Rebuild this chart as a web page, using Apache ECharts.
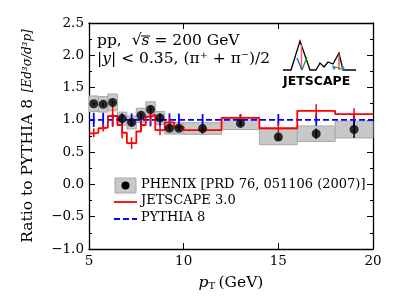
<!DOCTYPE html>
<html><head><meta charset="utf-8">
<script src="https://cdn.jsdelivr.net/npm/echarts@6/dist/echarts.min.js"></script>
<style>html,body{margin:0;padding:0;background:#fff}#c{width:407px;height:305px}</style>
</head><body><div id="c"></div>
<script>
// PHENIX data (ratio to PYTHIA 8)
const phenixLo  = [5,5.5,6,6.5,7,7.5,8,8.5,9,9.5,10,12,14,16,18];
const phenixHi  = [5.5,6,6.5,7,7.5,8,8.5,9,9.5,10,12,14,16,18,20];
const phenixX   = [5.25,5.75,6.25,6.75,7.25,7.75,8.25,8.75,9.25,9.75,11,13,15,17,19];
const phenixVal = [1.25,1.24,1.27,1.02,0.96,1.07,1.16,1.03,0.87,0.87,0.865,0.945,0.735,0.785,0.85];
const phenixStat= [0.02,0.02,0.02,0.02,0.02,0.02,0.03,0.03,0.03,0.03,0.03,0.04,0.05,0.08,0.13];
const phenixSys = [0.12,0.12,0.13,0.10,0.10,0.11,0.12,0.10,0.09,0.09,0.09,0.095,0.12,0.12,0.13];
// JETSCAPE 3.0 step histogram
const jsEdges = [5,5.25,5.5,5.75,6,6.25,6.5,6.75,7,7.25,7.5,7.75,8,8.25,8.5,8.75,9,9.25,9.5,10,12,14,16,18,20];
const jsVal   = [0.79,0.80,0.87,0.88,1.06,1.06,0.92,0.80,0.64,0.64,0.82,0.92,1.05,1.08,0.84,0.84,0.96,0.96,0.89,0.84,1.03,0.87,1.14,1.09];
const jsErrX  = [5.25,5.75,6.25,6.75,7.25,7.75,8.25,8.75,9.25,9.75,11,13,15,17,19];
const jsErr   = [0.07,0.06,0.17,0.09,0.09,0.09,0.15,0.08,0.08,0.05,0.06,0.06,0.08,0.10,0.09];
// PYTHIA 8
const pyX   = [5.25,5.75,6.25,6.75,7.25,7.75,8.25,8.75,9.25,9.75,11,13,15,17,19];
const pyVal = [1,1,1,1,1,1,1,1,1,1,1,1,1,1,1];
const pyErr = [0.11,0.11,0.10,0.10,0.10,0.10,0.10,0.10,0.10,0.10,0.09,0.09,0.09,0.09,0.09];
// axes
const xTicks = [5,10,15,20];
const yTicks = [-1.0,-0.5,0.0,0.5,1.0,1.5,2.0,2.5];

const SERIF = 'DejaVu Serif';
function stepData(edges, vals){
  const d=[];
  for(let i=0;i<vals.length;i++){ d.push([edges[i],vals[i]]); d.push([edges[i+1],vals[i]]); }
  return d;
}
function errBars(xs, vs, es){ return xs.map((x,i)=>[x, vs[i]-es[i], vs[i]+es[i]]); }
function barRender(color,w){
  return function(params, api){
    const p1=api.coord([api.value(0),api.value(1)]);
    const p2=api.coord([api.value(0),api.value(2)]);
    return {type:'line',shape:{x1:p1[0],y1:p1[1],x2:p2[0],y2:p2[1]},style:{stroke:color,lineWidth:w}};
  };
}
const chart = echarts.init(document.getElementById('c'), null, {renderer:'canvas'});
const axisCommon = {
  axisLine:{show:true,onZero:false,lineStyle:{color:'#000',width:1.3}},
  axisTick:{show:true,inside:true,length:6,lineStyle:{color:'#000',width:1}},
  splitLine:{show:false}
};
const option = {
  animation:false,
  backgroundColor:'#fff',
  grid:{left:89,right:34,top:23,bottom:56},
  xAxis:[
    Object.assign({type:'value',min:xTicks[0],max:xTicks[xTicks.length-1],interval:5,
      axisLabel:{color:'#000',fontFamily:SERIF,fontSize:13.5,margin:5},
      name:'{i|p}{s|T} {n|(GeV)}',nameLocation:'middle',nameGap:26,
      nameTextStyle:{rich:{
        i:{fontFamily:SERIF,fontStyle:'italic',fontSize:15.5,color:'#000'},
        s:{fontFamily:SERIF,fontSize:10,color:'#000',padding:[6,0,0,0]},
        n:{fontFamily:SERIF,fontSize:15.5,color:'#000'}}}
    },axisCommon),
    Object.assign({type:'value',position:'top',min:5,max:20,interval:5,axisLabel:{show:false}},axisCommon)
  ],
  yAxis:[
    Object.assign({type:'value',min:yTicks[0],max:yTicks[yTicks.length-1],interval:0.5,
      minorTick:{show:true,splitNumber:2,length:3,lineStyle:{color:'#000'}},
      axisLabel:{color:'#000',fontFamily:SERIF,fontSize:13.5,margin:5,
        formatter:v=>(v<0?'\u2212':'')+Math.abs(v).toFixed(1)},
      name:'{r|Ratio to PYTHIA 8}  {b|[Ed\u00B3\u03C3/d\u00B3p]}',nameLocation:'middle',nameRotate:90,nameGap:53,
      nameTextStyle:{rich:{
        r:{fontFamily:SERIF,fontSize:15.5,color:'#000'},
        b:{fontFamily:SERIF,fontStyle:'italic',fontSize:12,color:'#000'}}}
    },axisCommon),
    Object.assign({type:'value',position:'right',min:-1,max:2.5,interval:0.5,
      minorTick:{show:true,splitNumber:2,length:3,lineStyle:{color:'#000'}},
      axisLabel:{show:false}},axisCommon)
  ],
  series:[
    {name:'PHENIX sys',type:'custom',z:1,
     data:phenixX.map((x,i)=>[phenixLo[i],phenixHi[i],phenixVal[i]-phenixSys[i],phenixVal[i]+phenixSys[i]]),
     renderItem:function(params,api){
       const a=api.coord([api.value(0),api.value(3)]);
       const b=api.coord([api.value(1),api.value(2)]);
       return {type:'rect',shape:{x:a[0],y:a[1],width:b[0]-a[0],height:b[1]-a[1]},
         style:{fill:'#c8c8c8',stroke:'#a8a8a8',lineWidth:1}};
     }},
    {name:'PYTHIA 8',type:'line',z:3,data:stepData([5,20],[1]),symbol:'none',
     lineStyle:{color:'#0000ff',width:1.8,type:[6,3]}},
    {name:'PYTHIA err',type:'custom',z:3,data:errBars(pyX,pyVal,pyErr),renderItem:barRender('#0000ff',1.8)},
    {name:'JETSCAPE 3.0',type:'line',z:4,data:stepData(jsEdges,jsVal),symbol:'none',
     lineStyle:{color:'#ff0000',width:1.8}},
    {name:'JETSCAPE err',type:'custom',z:4,
     data:jsErrX.map((x,i)=>{let k=0;while(k<jsVal.length-1&&x>=jsEdges[k+1])k++;return [x,jsVal[k]-jsErr[i],jsVal[k]+jsErr[i]];}),
     renderItem:barRender('#ff0000',1.5)},
    {name:'PHENIX stat',type:'custom',z:5,data:errBars(phenixX,phenixVal,phenixStat),renderItem:barRender('#000',1.5)},
    {name:'PHENIX',type:'scatter',z:6,data:phenixX.map((x,i)=>[x,phenixVal[i]]),symbol:'circle',symbolSize:9,
     itemStyle:{color:'#000'}}
  ],
  graphic:[
    {type:'text',left:97,top:33,style:{text:'pp,  \u221A{s|s} = 200 GeV',fontFamily:SERIF,fontSize:15.5,fill:'#000',
      rich:{s:{fontFamily:SERIF,fontStyle:'italic',fontSize:15.5}}}},
    {type:'line',shape:{x1:141,y1:36,x2:150,y2:36},style:{stroke:'#000',lineWidth:1}},
    {type:'text',left:97,top:51,style:{text:'|{y|y}| < 0.35, (\u03C0\u207A + \u03C0\u207B)/2',fontFamily:SERIF,fontSize:15.5,fill:'#000',
      rich:{y:{fontFamily:SERIF,fontStyle:'italic',fontSize:15.5}}}},
    // legend
    {type:'rect',shape:{x:115,y:178,width:21,height:15},style:{fill:'#c8c8c8',stroke:'#a8a8a8'}},
    {type:'circle',shape:{cx:125.5,cy:185.5,r:4},style:{fill:'#000'}},
    {type:'text',left:141,top:178,style:{text:'PHENIX [PRD 76, 051106 (2007)]',fontFamily:SERIF,fontSize:13,fill:'#000'}},
    {type:'line',shape:{x1:114,y1:202,x2:137,y2:202},style:{stroke:'#ff0000',lineWidth:1.8}},
    {type:'text',left:141,top:194.5,style:{text:'JETSCAPE 3.0',fontFamily:SERIF,fontSize:13,fill:'#000'}},
    {type:'line',shape:{x1:114,y1:219,x2:137,y2:219},style:{stroke:'#0000ff',lineWidth:1.8,lineDash:[6,3]}},
    {type:'text',left:141,top:211,style:{text:'PYTHIA 8',fontFamily:SERIF,fontSize:13,fill:'#000'}},
    // JETSCAPE logo
    {type:'polyline',shape:{points:[[283,70],[291,70],[300,41],[310,70],[316,70],[320,63],[324,67],[328,62],[333,64],[339,53],[343,70],[356,70]]},
     style:{stroke:'#000',fill:null,lineWidth:1.3}},
    {type:'line',shape:{x1:301.5,y1:45,x2:301.5,y2:70},style:{stroke:'#ff6060',lineWidth:1.5}},
    {type:'line',shape:{x1:297,y1:58,x2:302,y2:70},style:{stroke:'#2050ff',lineWidth:1.3}},
    {type:'line',shape:{x1:307,y1:57,x2:302,y2:70},style:{stroke:'#20a020',lineWidth:1.3}},
    {type:'line',shape:{x1:339,y1:54,x2:339,y2:70},style:{stroke:'#ff3030',lineWidth:1.3}},
    {type:'line',shape:{x1:332,y1:66,x2:345,y2:70},style:{stroke:'#20a020',lineWidth:1.2}},
    {type:'circle',shape:{cx:334,cy:68,r:1.5},style:{fill:'#4070ff'}},
    {type:'circle',shape:{cx:343,cy:68,r:1.5},style:{fill:'#4070ff'}},
    {type:'text',left:283,top:75,style:{text:'JETSCAPE',fontFamily:'DejaVu Sans',fontWeight:'bold',fontSize:12.5,fill:'#000'}}
  ]
};
chart.setOption(option);
</script></body></html>
